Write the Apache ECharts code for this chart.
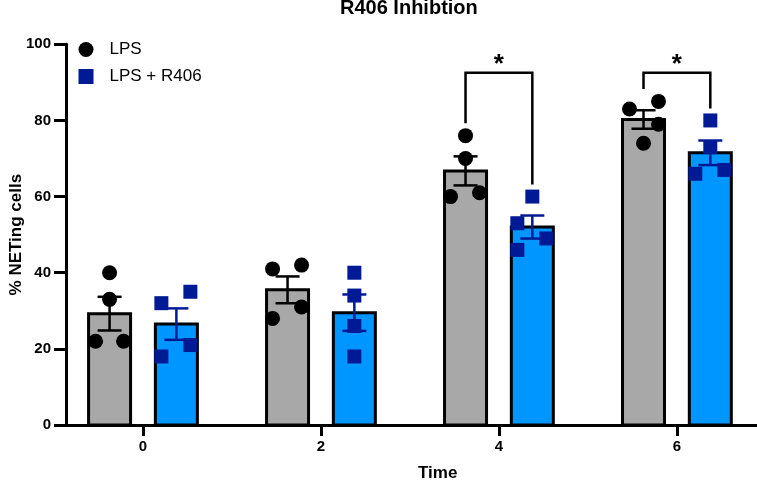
<!DOCTYPE html>
<html><head><meta charset="utf-8">
<script src="https://cdn.jsdelivr.net/npm/echarts@6/dist/echarts.min.js"></script>
<style>html,body{margin:0;padding:0;background:#fff}#c{width:757px;height:483px}</style>
</head><body><div id="c"></div>
<script>
// ---- data ----
const times = [0, 2, 4, 6];
const timeLabels = ['0', '2', '4', '6'];
const lpsPoints = [[40, 33, 22, 22], [41, 42, 31, 28], [76, 70, 60, 61], [83, 85, 79, 74]];
const r406Points = [[32, 35, 21, 18], [40, 34, 26, 18], [60, 53, 49, 46], [80, 73, 66, 67]];
const sigTimes = [4, 6];
const sigLabels = ['*', '*'];
const sigLevel = [92.5, 92.5];

// ---- styles ----
const FONT = '"Liberation Sans", Arial, Helvetica, sans-serif';
const GRAY = '#A8A8A8', BLUE = '#0096FF', NAVY = '#001A95';
const BAR_W = 42, BAR_OFF = 33.4;
const lpsJitter = [[0, 0, -14, 14], [-15, 14, 14, -15], [0, 0, -15, 14], [-14, 15, 15, 0]];
const r406Jitter = [[-15, 14, 14, -15], [0, 0, 0, 0], [0, -15, 14, -15], [0, 0, -15, 14]];

function mean(a) { return a.reduce((s, v) => s + v, 0) / a.length; }
function sem(a) { const m = mean(a); const v = a.reduce((s, x) => s + (x - m) * (x - m), 0) / (a.length - 1); return Math.sqrt(v / a.length); }

function barRender(offset, color) {
  return function (params, api) {
    const t = api.value(0), m = api.value(1);
    const top = api.coord([t, m]);
    const base = api.coord([t, 0]);
    const x = top[0] + offset - BAR_W / 2;
    return { type: 'rect', shape: { x: x, y: top[1], width: BAR_W, height: base[1] - top[1] },
      style: { fill: color, stroke: '#000', lineWidth: 3 } };
  };
}

function errRender(offset, color) {
  return function (params, api) {
    const t = api.value(0), m = api.value(1), s = api.value(2);
    const top = api.coord([t, m + s]);
    const bot = api.coord([t, m - s]);
    const x = top[0] + offset, cap = 12;
    const st = { stroke: color, lineWidth: 2.5 };
    return { type: 'group', children: [
      { type: 'line', shape: { x1: x, y1: top[1], x2: x, y2: bot[1] }, style: st },
      { type: 'line', shape: { x1: x - cap, y1: top[1], x2: x + cap, y2: top[1] }, style: st },
      { type: 'line', shape: { x1: x - cap, y1: bot[1], x2: x + cap, y2: bot[1] }, style: st }
    ] };
  };
}

function pointData(points, jitter, offset) {
  const out = [];
  times.forEach((t, i) => points[i].forEach((v, j) => {
    out.push({ value: [t, v], symbolOffset: [offset + jitter[i][j], 0] });
  }));
  return out;
}

const chart = echarts.init(document.getElementById('c'), null, { renderer: 'canvas' });
chart.setOption({
  animation: false,
  backgroundColor: '#fff',
  textStyle: { fontFamily: FONT },
  title: [
    { text: 'R406 Inhibtion', left: 340, top: -2, padding: 0,
      textStyle: { fontSize: 20, fontWeight: 'bold', color: '#000', fontFamily: FONT } },
    { text: 'Time', left: 418, top: 465, padding: 0,
      textStyle: { fontSize: 17, fontWeight: 'bold', color: '#000', fontFamily: FONT } }
  ],
  legend: {
    data: [{ name: 'LPS', icon: 'circle' }, { name: 'LPS + R406', icon: 'rect' }],
    orient: 'vertical', left: 78.5, top: 41, padding: 0,
    itemWidth: 15, itemHeight: 15, itemGap: 10, selectedMode: false,
    textStyle: { fontSize: 17, color: '#000', fontFamily: FONT, padding: [0, 0, 0, 11] }
  },
  grid: { left: 66, right: 0, top: 44.3, bottom: 58, containLabel: false, outerBoundsMode: 'none' },
  xAxis: {
    type: 'value', min: -0.865, max: 6.9,
    axisLine: { show: true, onZero: false, lineStyle: { color: '#000', width: 3 } },
    axisTick: { show: true, customValues: times, length: 11, lineStyle: { color: '#000', width: 3 } },
    axisLabel: { customValues: times, formatter: v => timeLabels[times.indexOf(v)],
      fontSize: 15, fontWeight: 'bold', color: '#000', margin: 14, fontFamily: FONT },
    splitLine: { show: false }
  },
  yAxis: {
    type: 'value', min: 0, max: 100, interval: 20,
    name: '% NETing cells', nameLocation: 'middle', nameGap: 41, nameMoveOverlap: false,
    nameTextStyle: { fontSize: 17, fontWeight: 'bold', color: '#000', fontFamily: FONT },
    axisLine: { show: true, onZero: false, lineStyle: { color: '#000', width: 3 } },
    axisTick: { show: true, length: 12, lineStyle: { color: '#000', width: 3 } },
    axisLabel: { fontSize: 15, fontWeight: 'bold', color: '#000', margin: 15, fontFamily: FONT },
    splitLine: { show: false }
  },
  series: [
    { name: 'LPS mean', type: 'custom', z: 2, clip: false, encode: { x: 0, y: 1 },
      renderItem: barRender(-BAR_OFF, GRAY),
      data: times.map((t, i) => [t, mean(lpsPoints[i])]) },
    { name: 'LPS + R406 mean', type: 'custom', z: 2, clip: false, encode: { x: 0, y: 1 },
      renderItem: barRender(BAR_OFF, BLUE),
      data: times.map((t, i) => [t, mean(r406Points[i])]) },
    { name: 'LPS err', type: 'custom', z: 3, clip: false, encode: { x: 0, y: 1 },
      renderItem: errRender(-BAR_OFF, '#000'),
      data: times.map((t, i) => [t, mean(lpsPoints[i]), sem(lpsPoints[i])]) },
    { name: 'R406 err', type: 'custom', z: 3, clip: false, encode: { x: 0, y: 1 },
      renderItem: errRender(BAR_OFF, NAVY),
      data: times.map((t, i) => [t, mean(r406Points[i]), sem(r406Points[i])]) },
    { name: 'LPS', type: 'scatter', symbol: 'circle', symbolSize: 15, z: 4,
      itemStyle: { color: '#000', opacity: 1 }, data: pointData(lpsPoints, lpsJitter, -BAR_OFF) },
    { name: 'LPS + R406', type: 'scatter', symbol: 'rect', symbolSize: 14, z: 4,
      itemStyle: { color: NAVY, opacity: 1 }, data: pointData(r406Points, r406Jitter, BAR_OFF) },
    { name: 'sig', type: 'custom', z: 5, clip: false, encode: { x: 0, y: 1 },
      renderItem: function (params, api) {
        const i = params.dataIndex;
        const t = api.value(0);
        const top = api.coord([t, api.value(1)]);
        const lTop = api.coord([t, api.value(2)])[1] - 12.5;
        const rTop = api.coord([t, api.value(3)])[1] - 12;
        const xl = top[0] - BAR_OFF, xr = top[0] + BAR_OFF, y = top[1];
        return { type: 'group', children: [
          { type: 'polyline', shape: { points: [[xl, lTop], [xl, y], [xr, y], [xr, rTop]] },
            style: { stroke: '#000', lineWidth: 2.5, fill: null } },
          { type: 'text', x: top[0], y: y - 8,
            style: { text: sigLabels[i], fontSize: 26, fontWeight: 'bold', fontFamily: FONT,
              fill: '#000', align: 'center', verticalAlign: 'middle' } }
        ] };
      },
      data: sigTimes.map((t, k) => {
        const i = times.indexOf(t);
        return [t, sigLevel[k], Math.max(...lpsPoints[i]), Math.max(...r406Points[i])];
      }) }
  ]
});
</script></body></html>
